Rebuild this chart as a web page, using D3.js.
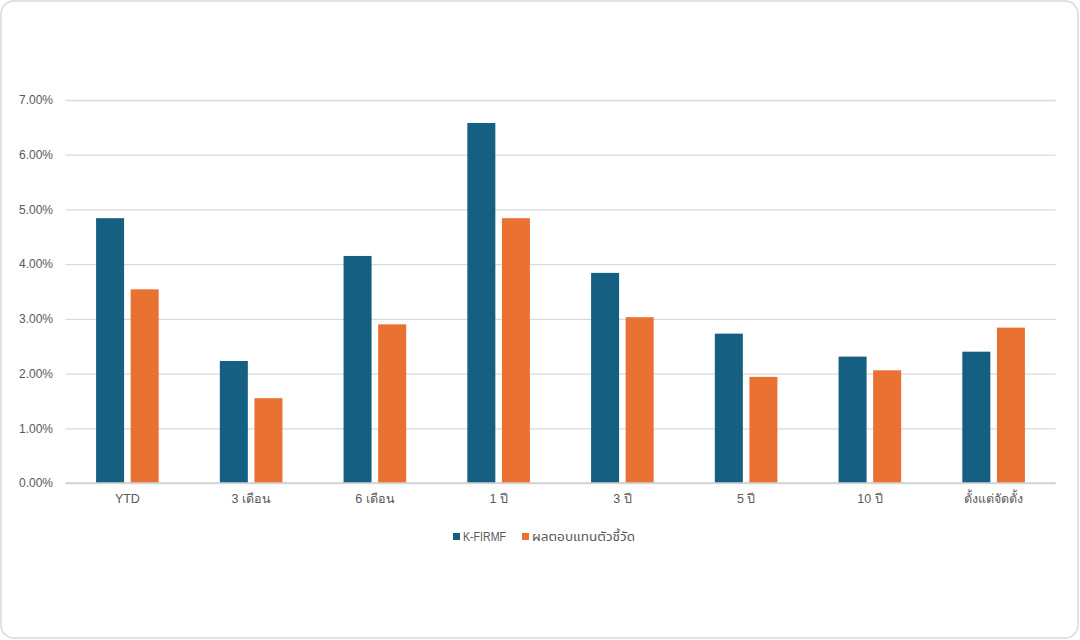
<!DOCTYPE html>
<html><head><meta charset="utf-8">
<script src="https://cdn.jsdelivr.net/npm/d3@7"></script>
<style>
html,body{margin:0;padding:0;background:#fff;}
svg{display:block;font-family:"Liberation Sans","Noto Sans Thai","Noto Sans",Tahoma,sans-serif;}
</style></head>
<body><svg id="c" width="1080" height="640"></svg>
<script>
const categories = ["YTD","3 เดือน","6 เดือน","1 ปี","3 ปี","5 ปี","10 ปี","ตั้งแต่จัดตั้ง"];
const seriesNames = ["K-FIRMF","ผลตอบแทนตัวชี้วัด"];
const fundValues = [4.84, 2.23, 4.15, 6.58, 3.84, 2.73, 2.31, 2.40];
const benchValues = [3.54, 1.55, 2.90, 4.84, 3.03, 1.94, 2.06, 2.84];
const yTicks = [0,1,2,3,4,5,6,7];
const colors = ["#156082","#E97132"];

(function(){
const svg = d3.select("#c");
svg.append("rect").attr("x",1).attr("y",1).attr("width",1077).attr("height",637)
  .attr("rx",13).attr("fill","#fff").attr("stroke","#d9d9d9").attr("stroke-width",1.5);

const pLeft = 65.5, pRight = 1055.5, pTop = 100, pBottom = 483;
const x0 = d3.scaleBand().domain(categories).range([pLeft,pRight]).padding(0);
const y = d3.scaleLinear().domain([0,7]).range([pBottom,pTop]);
const bw = x0.bandwidth();
const x1 = d3.scaleBand().domain(seriesNames).range([bw/2-31.3, bw/2+31.3]).paddingInner(0.19).paddingOuter(0);

// gridlines
const yAxis = d3.axisLeft(y).tickValues(yTicks).tickSize(-(pRight-pLeft)).tickPadding(12)
  .tickFormat(d => d.toFixed(2) + "%");
const gy = svg.append("g").attr("transform",`translate(${pLeft},0)`).call(yAxis);
gy.select(".domain").remove();
gy.selectAll(".tick line").attr("stroke","#d9d9d9").attr("stroke-width",1.3);
gy.selectAll(".tick text").attr("fill","#595959").attr("font-size",12).attr("x",-12.5);

const data = categories.map((c,i)=>({cat:c, vals:[fundValues[i], benchValues[i]]}));
const groups = svg.append("g").selectAll("g").data(data).join("g")
  .attr("transform", d=>`translate(${x0(d.cat)},0)`);
groups.selectAll("rect").data(d=>d.vals.map((v,j)=>({s:seriesNames[j], v, j})))
  .join("rect")
  .attr("x", d=>x1(d.s)).attr("width", x1.bandwidth())
  .attr("y", d=>y(d.v)).attr("height", d=>y(0)-y(d.v))
  .attr("fill", d=>colors[d.j]);

// baseline
svg.append("line").attr("x1",pLeft).attr("x2",pRight).attr("y1",y(0)).attr("y2",y(0))
  .attr("stroke","#d0d0d0").attr("stroke-width",1.5);

// x axis labels
const xAxis = d3.axisBottom(x0).tickSize(0).tickPadding(11);
const gx = svg.append("g").attr("transform",`translate(0,${pBottom})`).call(xAxis);
gx.select(".domain").remove();
gx.selectAll(".tick text").attr("fill","#595959").attr("font-size",12.5);

// legend
const legend = svg.append("g");
const legItems = [{name:seriesNames[0], x:453, w:43},{name:seriesNames[1], x:522, w:103}];
legItems.forEach((it,i)=>{
  legend.append("rect").attr("x",it.x).attr("y",533).attr("width",7).attr("height",7).attr("fill",colors[i]);
  legend.append("text").attr("x",it.x+10).attr("y",537).attr("dy","0.35em")
    .attr("fill","#595959").attr("font-size",12.5)
    .attr("textLength",it.w).attr("lengthAdjust","spacingAndGlyphs").text(it.name);
});
})();
</script></body></html>
